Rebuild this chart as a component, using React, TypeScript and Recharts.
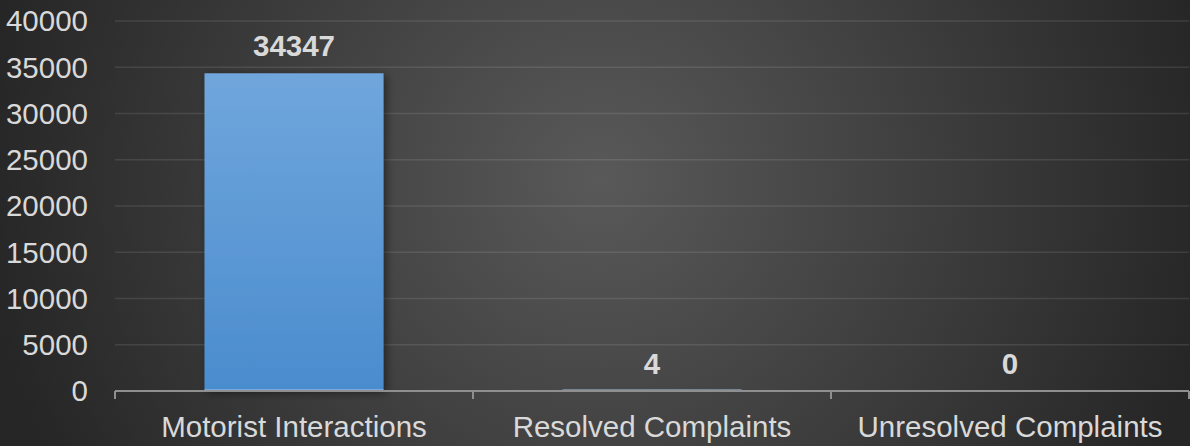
import React from 'react';
import { BarChart, Bar, XAxis, YAxis, CartesianGrid, LabelList } from 'recharts';

// Activity totals per category
const categories = ['Motorist Interactions', 'Resolved Complaints', 'Unresolved Complaints'];
const counts = [34347, 4, 0];
const yTicks = [0, 5000, 10000, 15000, 20000, 25000, 30000, 35000, 40000];

const data = categories.map((name, i) => ({ name, count: counts[i] }));

const FONT = '"Liberation Sans", Arial, Helvetica, sans-serif';
const TEXT = '#d9d9d9';
const AXIS = '#8f8f8f';
const FONT_SIZE = 29.5;

const BarShape = (props: any) => {
  const { x, y, width, height } = props;
  if (!(height > 0)) return <g />;
  return (
    <g>
      <rect
        x={x}
        y={y}
        width={width}
        height={height}
        fill="url(#barFill)"
        filter={height > 4 ? 'url(#barShadow)' : undefined}
      />
      <line x1={x} x2={x + width} y1={y + height - 0.75} y2={y + height - 0.75} stroke="#a6c6e6" strokeWidth={1.5} />
    </g>
  );
};

// Category label plus the tick marks that sit on the category boundaries
const CategoryTick = (props: any) => {
  const { x, y, payload, index, visibleTicksCount } = props;
  const half = payload && payload.offset ? payload.offset : 0;
  const axisY = y - 25;
  const last = index === (visibleTicksCount ?? categories.length) - 1;
  return (
    <g>
      <line x1={x - half} x2={x - half} y1={axisY} y2={axisY + 8} stroke={AXIS} strokeWidth={2} />
      {last && <line x1={x + half} x2={x + half} y1={axisY} y2={axisY + 8} stroke={AXIS} strokeWidth={2} />}
      <text x={x} y={y} dy="0.71em" textAnchor="middle" fill={TEXT} fontSize={FONT_SIZE} fontFamily={FONT}>
        {payload.value}
      </text>
    </g>
  );
};

export default function App() {
  return (
    <div
      style={{
        position: 'absolute',
        left: 0,
        top: 0,
        width: 1190,
        height: 446,
        background: 'radial-gradient(ellipse 620px 600px at 600px 180px, #595959 0%, #262626 100%)',
        fontFamily: FONT,
      }}
    >
      <BarChart
        width={1190}
        height={446}
        data={data}
        margin={{ top: 21, right: 1, bottom: 0, left: 0 }}
        barCategoryGap="25%"
        style={{ fontFamily: FONT }}
      >
        <defs>
          <linearGradient id="barFill" x1="0" y1="0" x2="0" y2="1">
            <stop offset="0%" stopColor="#70a6dc" />
            <stop offset="100%" stopColor="#4a8cce" />
          </linearGradient>
          <filter id="barShadow" x="-10%" y="-10%" width="130%" height="130%">
            <feDropShadow dx="3" dy="2" stdDeviation="4" floodColor="#000" floodOpacity="0.45" />
          </filter>
        </defs>
        <CartesianGrid vertical={false} stroke="rgba(255,255,255,0.1)" strokeWidth={1.5} />
        <XAxis
          dataKey="name"
          axisLine={{ stroke: AXIS, strokeWidth: 2 }}
          tickLine={false}
          tickSize={0}
          tickMargin={25}
          height={55}
          interval={0}
          tick={<CategoryTick />}
        />
        <YAxis
          width={115}
          domain={[0, 40000]}
          ticks={yTicks}
          axisLine={false}
          tickLine={false}
          tickSize={0}
          tickMargin={27}
          interval={0}
          tick={{ fill: TEXT, fontSize: FONT_SIZE, fontFamily: FONT }}
        />
        <Bar dataKey="count" shape={<BarShape />} isAnimationActive={false}>
          <LabelList
            dataKey="count"
            position="top"
            offset={17}
            fill={TEXT}
            fontSize={FONT_SIZE}
            fontWeight="bold"
            fontFamily={FONT}
          />
        </Bar>
      </BarChart>
    </div>
  );
}
